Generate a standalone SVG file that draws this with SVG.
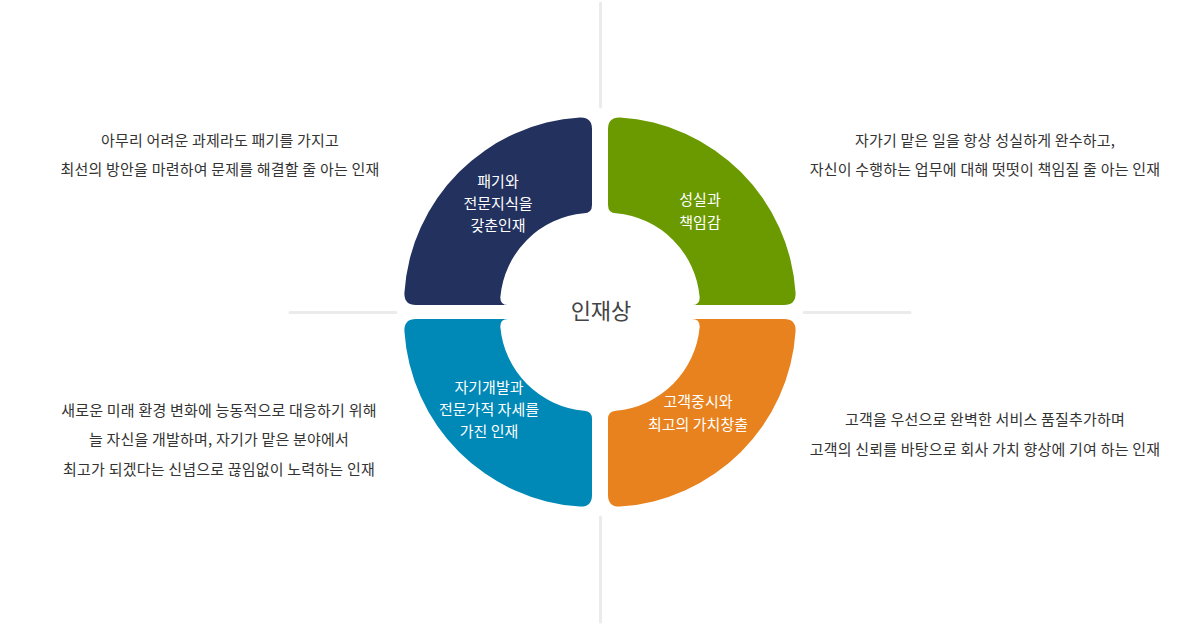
<svg xmlns="http://www.w3.org/2000/svg" width="1200" height="625" viewBox="0 0 1200 625">
<defs>
<style>
.desc{font-family:"Noto Sans CJK KR","Noto Sans",sans-serif;font-size:15px;fill:#333;text-anchor:middle;letter-spacing:0.2px}
.lbl{font-family:"Noto Sans CJK KR","Noto Sans",sans-serif;font-size:15px;fill:#fff;text-anchor:middle}
.title{font-family:"Noto Sans CJK KR","Noto Sans",sans-serif;font-size:22px;fill:#444;text-anchor:middle}
.guide{stroke:#ebebeb;stroke-width:3;stroke-linecap:round;fill:none}
</style>
<path id="quad" d="M416,305 Q404,305 404.4,293 A188,188 0 0 1 580,117.4 Q592,117 592,129 L592,205 Q592,213 584,213.35 A92,92 0 0 0 500.35,297 Q500,305 508,305 Z"/>
</defs>
<rect width="1200" height="625" fill="#fff"/>
<g id="connectors">
<line class="guide" x1="600.5" y1="3" x2="600.5" y2="107"/>
<line class="guide" x1="600.5" y1="517" x2="600.5" y2="622"/>
<line class="guide" x1="290" y1="312.5" x2="396" y2="312.5"/>
<line class="guide" x1="804" y1="312.5" x2="910" y2="312.5"/>
</g>
<g id="node-center">
<text class="title" x="601" y="319">인재상</text>
</g>
<g id="node-spirit">
<use href="#quad" fill="#22315e"/>
<text class="lbl" x="498" y="187">패기와</text>
<text class="lbl" x="498" y="209">전문지식을</text>
<text class="lbl" x="498" y="231">갖춘인재</text>
</g>
<g id="node-sincerity">
<use href="#quad" fill="#6a9a00" transform="translate(1200,0) scale(-1,1)"/>
<text class="lbl" x="700" y="205">성실과</text>
<text class="lbl" x="700" y="228">책임감</text>
</g>
<g id="node-development">
<use href="#quad" fill="#0088b6" transform="translate(0,624) scale(1,-1)"/>
<text class="lbl" x="489" y="393">자기개발과</text>
<text class="lbl" x="489" y="415">전문가적 자세를</text>
<text class="lbl" x="489" y="437">가진 인재</text>
</g>
<g id="node-customer">
<use href="#quad" fill="#e8821e" transform="translate(1200,624) scale(-1,-1)"/>
<text class="lbl" x="698" y="407">고객중시와</text>
<text class="lbl" x="698" y="430">최고의 가치창출</text>
</g>
<g id="desc-spirit">
<text class="desc" x="220" y="146">아무리 어려운 과제라도 패기를 가지고</text>
<text class="desc" x="220" y="175">최선의 방안을 마련하여 문제를 해결할 줄 아는 인재</text>
</g>
<g id="desc-sincerity">
<text class="desc" x="985" y="146">자가기 맡은 일을 항상 성실하게 완수하고,</text>
<text class="desc" x="985" y="175">자신이 수행하는 업무에 대해 떳떳이 책임질 줄 아는 인재</text>
</g>
<g id="desc-development">
<text class="desc" x="219" y="416">새로운 미래 환경 변화에 능동적으로 대응하기 위해</text>
<text class="desc" x="219" y="445">늘 자신을 개발하며, 자기가 맡은 분야에서</text>
<text class="desc" x="219" y="475">최고가 되겠다는 신념으로 끊임없이 노력하는 인재</text>
</g>
<g id="desc-customer">
<text class="desc" x="985" y="425">고객을 우선으로 완벽한 서비스 품질추가하며</text>
<text class="desc" x="985" y="455">고객의 신뢰를 바탕으로 회사 가치 향상에 기여 하는 인재</text>
</g>
</svg>
